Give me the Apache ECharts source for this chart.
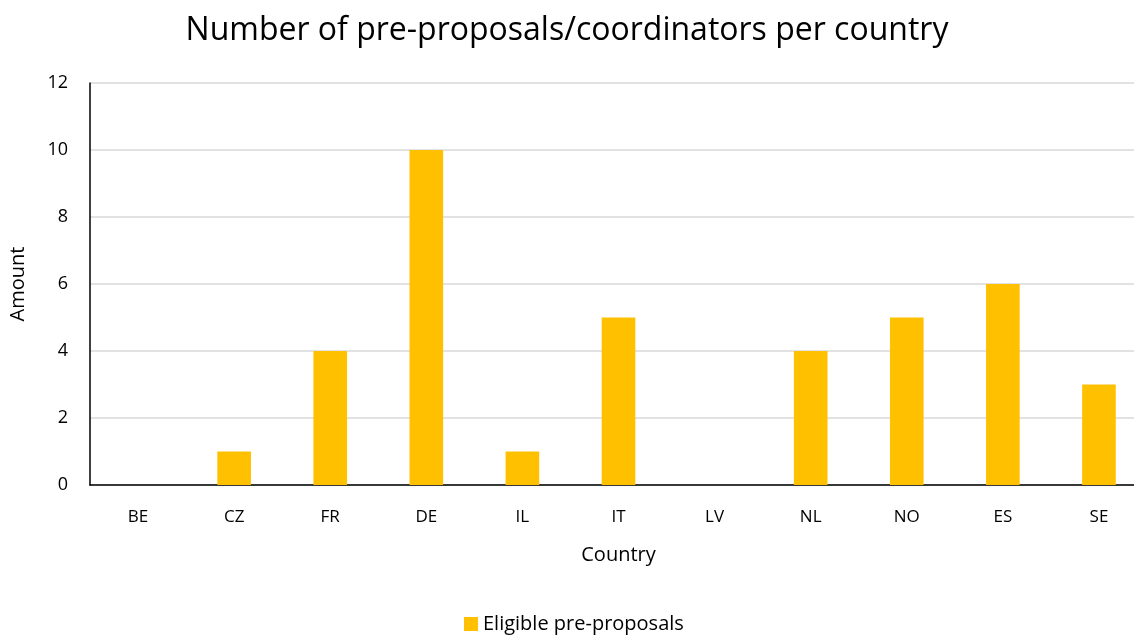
<!DOCTYPE html>
<html><head><meta charset="utf-8">
<script src="https://cdn.jsdelivr.net/npm/echarts@6/dist/echarts.min.js"></script>
<style>html,body{margin:0;padding:0;background:#fff}#c{width:1134px;height:636px}</style>
</head><body><div id="c"></div>
<script>
const categories = ['BE','CZ','FR','DE','IL','IT','LV','NL','NO','ES','SE'];
const eligible = [0,1,4,10,1,5,0,4,5,6,3];
const yTicks = {min:0, max:12, interval:2};
const F = 'Open Sans';
const chart = echarts.init(document.getElementById('c'));
chart.setOption({
  animation:false,
  title:{text:'Number of pre-proposals/coordinators per country',left:'center',top:10,
    textStyle:{fontFamily:F,fontSize:32,fontWeight:'normal',color:'#000'}},
  legend:{bottom:-3,left:459,itemWidth:14,itemHeight:14,icon:'rect',itemGap:6,
    textStyle:{fontFamily:F,fontSize:20,color:'#000'},data:['Eligible pre-proposals']},
  grid:{left:90,top:83,width:1057,height:402,containLabel:false,outerBoundsMode:'none'},
  xAxis:{type:'category',data:categories,name:'Country',nameLocation:'middle',nameGap:60,
    nameTextStyle:{fontFamily:F,fontSize:20,color:'#000'},
    axisLine:{lineStyle:{color:'#000',width:1.5}},axisTick:{show:false},
    axisLabel:{fontFamily:F,fontSize:17,color:'#000',margin:24}},
  yAxis:{type:'value',min:yTicks.min,max:yTicks.max,interval:yTicks.interval,name:'Amount',
    nameLocation:'middle',nameGap:62,nameTextStyle:{fontFamily:F,fontSize:20,color:'#000'},
    axisLine:{show:true,lineStyle:{color:'#000',width:1.5}},axisTick:{show:false},
    axisLabel:{fontFamily:F,fontSize:18,color:'#000',margin:22},
    splitLine:{lineStyle:{color:'#d9d9d9',width:1.5}}},
  series:[{name:'Eligible pre-proposals',type:'bar',data:eligible,barWidth:'35%',
    itemStyle:{color:'#FFC000'}}]
});
</script></body></html>
